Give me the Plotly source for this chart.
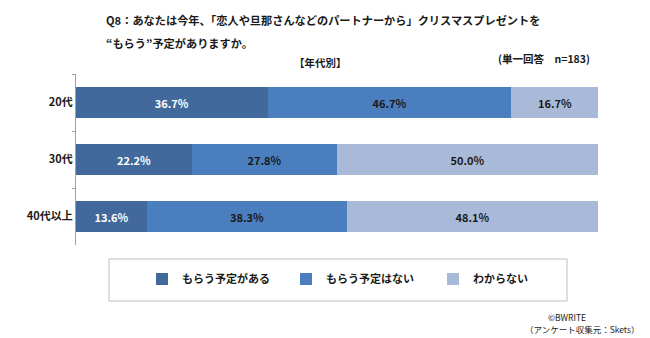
import plotly.graph_objects as go

categories = ["20代", "30代", "40代以上"]
series_names = ["もらう予定がある", "もらう予定はない", "わからない"]
yes_vals = [36.7, 22.2, 13.6]
no_vals = [46.7, 27.8, 38.3]
unknown_vals = [16.7, 50.0, 48.1]
colors = ["#41699B", "#4B7EBE", "#A9BAD8"]
text_colors = ["#FFFFFF", "#1A1A1A", "#1A1A1A"]

FONT = "Noto Sans CJK JP"
legend_ids = ["legend", "legend2", "legend3"]
legend_px = [142, 286, 433]

fig = go.Figure()
for name, vals, col, tcol, lg in zip(series_names, [yes_vals, no_vals, unknown_vals], colors, text_colors, legend_ids):
    fig.add_trace(go.Bar(
        y=categories, x=vals, name=f"<b>{name}</b>", orientation="h",
        marker=dict(color=col, line=dict(width=0)),
        text=[f"<b>{v:.1f}%</b>" for v in vals],
        textposition="inside", insidetextanchor="middle",
        textfont=dict(color=tcol, size=11, family=FONT),
        width=0.56, legend=lg,
    ))

L, R, T, B = 76, 598, 74, 245
W, H = R - L, B - T

def px(x):
    return (x - L) / W

def py(y):
    return (B - y) / H

legend_common = dict(orientation="h", xref="container", yref="container", xanchor="left", yanchor="middle",
                     bgcolor="rgba(0,0,0,0)", borderwidth=0, font=dict(size=11, family=FONT), itemwidth=30)

layout_legends = {}
for lg, lx in zip(legend_ids, legend_px):
    layout_legends[lg] = dict(legend_common, x=lx / 650, y=(338 - 279) / 338)

fig.update_layout(
    width=650, height=338,
    margin=dict(l=L, r=650 - R, t=T, b=338 - B),
    barmode="stack", bargap=0.44,
    paper_bgcolor="white", plot_bgcolor="white",
    font=dict(family=FONT, size=11, color="#1A1A1A"),
    uniformtext=dict(mode="show", minsize=8),
    xaxis=dict(range=[0, 100], visible=False, fixedrange=True),
    yaxis=dict(type="category", autorange="reversed", showline=True, linecolor="#A0A0A0",
               linewidth=1, ticks="outside", tickson="boundaries", ticklen=3, tickcolor="#A0A0A0",
               tickprefix="<b>", ticksuffix="</b>",
               tickfont=dict(size=11, family=FONT, color="#1A1A1A"), showgrid=False),
    showlegend=True,
    shapes=[dict(type="rect", xref="paper", yref="paper", x0=px(109), x1=px(567), y0=py(301), y1=py(259),
                 line=dict(color="#BFBFBF", width=1), fillcolor="rgba(0,0,0,0)")],
    **layout_legends,
)

annos = [
    dict(text="<b>Q8：あなたは今年、「恋人や旦那さんなどのパートナーから」クリスマスプレゼントを</b>", x=px(104), y=py(20), xanchor="left", size=11.2),
    dict(text="<b>“もらう”予定がありますか。</b>", x=px(104), y=py(43), xanchor="left", size=11.2),
    dict(text="<b>【年代別】</b>", x=px(320), y=py(62), xanchor="center", size=10.5),
    dict(text="<b>(単一回答　n=183)</b>", x=px(592), y=py(59), xanchor="right", size=10.5),
    dict(text="©BWRITE", x=px(546), y=py(317), xanchor="left", size=8.5),
    dict(text="（アンケート収集元：Skets）", x=px(641), y=py(329), xanchor="right", size=8.5),
]
for a in annos:
    fig.add_annotation(text=a["text"], x=a["x"], y=a["y"], xref="paper", yref="paper",
                       xanchor=a["xanchor"], yanchor="middle", showarrow=False,
                       font=dict(size=a["size"], family=FONT, color="#1A1A1A"))

fig.write_html("out.html")
